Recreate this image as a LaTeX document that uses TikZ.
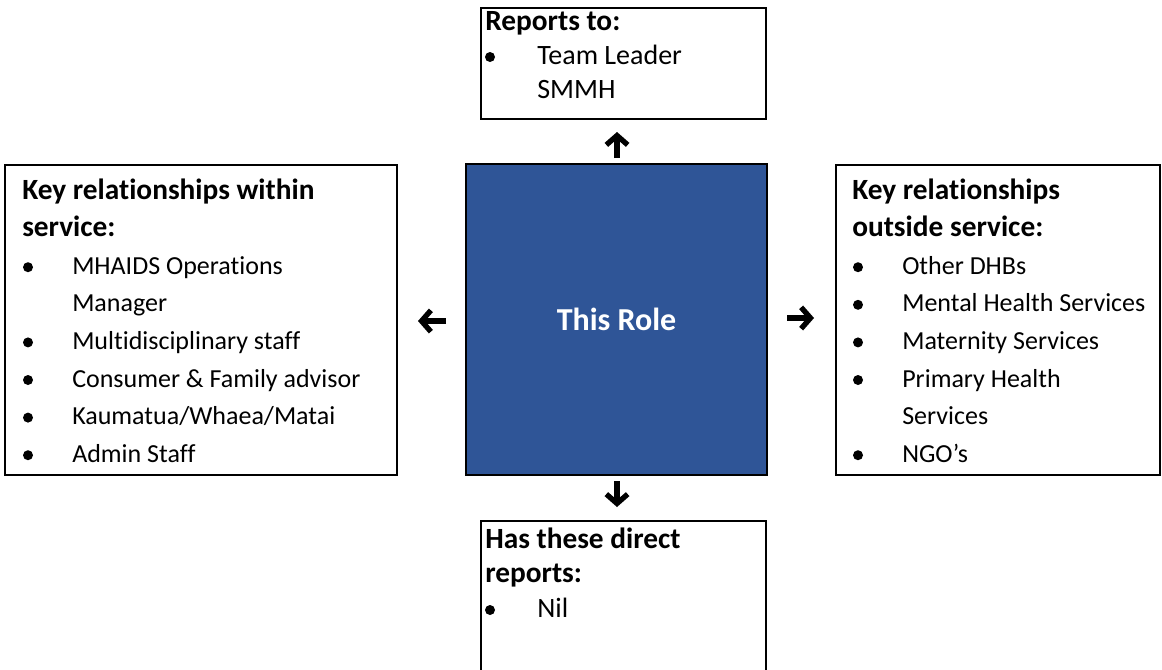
\documentclass[tikz,border=0pt]{standalone}
\usepackage{fontspec}
\setmainfont{Carlito}[Ligatures={TeX,NoCommon}]
\usetikzlibrary{arrows.meta,fit}
\definecolor{roleblue}{HTML}{2F5597}
\begin{document}
\begin{tikzpicture}[x=0.75pt,y=-0.75pt,
  frame/.style={draw=black,line width=1.5pt,inner sep=0pt,fill=white},
  rolebox/.style={draw=black,line width=1.5pt,fill=roleblue,inner sep=0pt},
  head/.style={anchor=base west,inner sep=0pt,font=\fontsize{22}{26}\selectfont\bfseries},
  item/.style={anchor=base west,inner sep=0pt,font=\fontsize{19.5}{24}\selectfont},
  bigitem/.style={item,font=\fontsize{21}{25}\selectfont},
  dot/.style={circle,fill=black,inner sep=0pt,minimum size=7.5pt},
  glypharrow/.style={line width=4pt,-{Straight Barb[length=7pt,width=16pt,line width=4pt]}}]
\path[clip] (0,0) rectangle (1162,669);

% boxes
\node[frame,fit={(481,8) (766,119)}] (top) {};
\node[rolebox,fit={(466,164) (767,475)}] (role) {};
\node[frame,fit={(5,165) (397,475)}] (within) {};
\node[frame,fit={(836,165) (1160,475)}] (outside) {};
\node[frame,fit={(481,521) (766,700)}] (direct) {};

\node[text=white,font=\fontsize{24}{28}\selectfont\bfseries] (rolelabel) at (role.center) {This Role};

% reports to
\node[head] (t1) at (485,30) {Reports to:};
\node[dot] (tb1) at (490,57) {};
\node[bigitem] (t2) at (537,64) {Team Leader};
\node[bigitem] (t3) at (537,98) {SMMH};

% direct reports
\node[head] (b1) at (485,548) {Has these direct};
\node[head] (b2) at (485,582) {reports:};
\node[dot] (bb1) at (490,610) {};
\node[bigitem] (b3) at (537,617) {Nil};

% relationships within service
\node[head] (l1) at (22,199) {Key relationships within};
\node[head] (l2) at (22,236.6) {service:};
\node[item] (l3) at (72,274.2) {MHAIDS Operations};
\node[item] (l4) at (72,311.8) {Manager};
\node[item] (l5) at (72,349.4) {Multidisciplinary staff};
\node[item] (l6) at (72,387) {Consumer \& Family advisor};
\node[item] (l7) at (72,424.6) {Kaumatua/Whaea/Matai};
\node[item] (l8) at (72,462.2) {Admin Staff};
\foreach \yy/\nm in {274.2/lb3,349.4/lb5,387/lb6,424.6/lb7,462.2/lb8}
  \node[dot] (\nm) at (28,\yy-7) {};

% relationships outside service
\node[head] (r1) at (852,199) {Key relationships};
\node[head] (r2) at (852,236.6) {outside service:};
\node[item] (r3) at (902,274.2) {Other DHBs};
\node[item] (r4) at (902,311.8) {Mental Health Services};
\node[item] (r5) at (902,349.4) {Maternity Services};
\node[item] (r6) at (902,387) {Primary Health};
\node[item] (r7) at (902,424.6) {Services};
\node[item] (r8) at (902,462.2) {NGO’s};
\foreach \yy/\nm in {274.2/rb3,311.8/rb4,349.4/rb5,387/rb6,462.2/rb8}
  \node[dot] (\nm) at (858,\yy-7) {};

% arrows
\coordinate (upS) at (617,158);  \coordinate (upE) at (617,132);
\coordinate (dnS) at (617,481);  \coordinate (dnE) at (617,507);
\coordinate (ltS) at (446,321);  \coordinate (ltE) at (418,321);
\coordinate (rtS) at (787,318);  \coordinate (rtE) at (814,318);
\draw[glypharrow] (upS) -- (upE);
\draw[glypharrow] (dnS) -- (dnE);
\draw[glypharrow] (ltS) -- (ltE);
\draw[glypharrow] (rtS) -- (rtE);
\end{tikzpicture}
\end{document}
